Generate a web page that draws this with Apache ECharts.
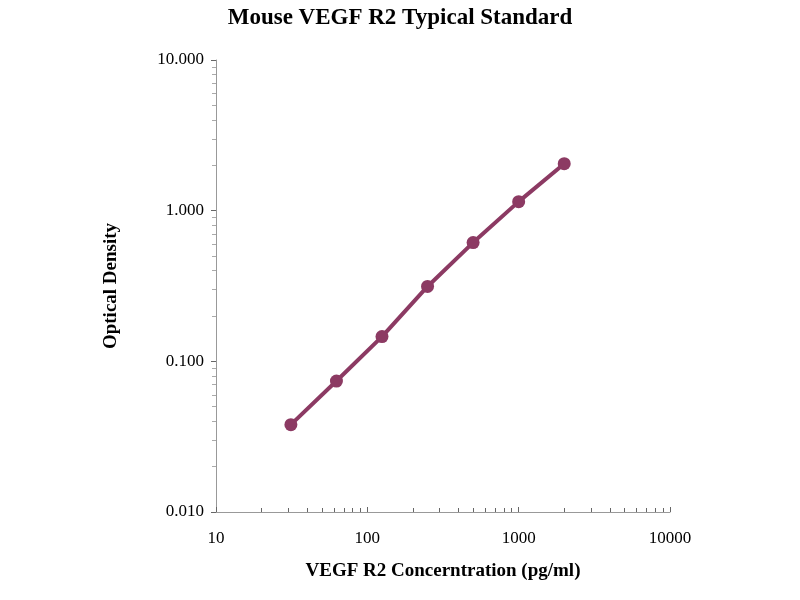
<!DOCTYPE html>
<html>
<head>
<meta charset="utf-8">
<script src="https://cdn.jsdelivr.net/npm/echarts@6/dist/echarts.min.js"></script>
<style>html,body{margin:0;padding:0;background:#fff}#chart{width:800px;height:600px}</style>
</head>
<body>
<div id="chart"></div>
<script>
// standard curve data
var concentration = [31.25, 62.5, 125, 250, 500, 1000, 2000];
var opticalDensity = [0.038, 0.074, 0.146, 0.314, 0.614, 1.148, 2.05];

var points = [];
for (var i = 0; i < concentration.length; i++) {
    points.push([concentration[i], opticalDensity[i]]);
}

var serif = '"Liberation Serif", "DejaVu Serif", serif';
var chart = echarts.init(document.getElementById('chart'));
chart.setOption({
    backgroundColor: '#fff',
    animation: false,
    title: {
        text: 'Mouse VEGF R2 Typical Standard',
        left: 'center', top: 2,
        textStyle: { fontFamily: serif, fontSize: 23, fontWeight: 'bold', color: '#000' }
    },
    grid: { left: 216, right: 130, top: 60, bottom: 88 },
    xAxis: {
        type: 'log', logBase: 10, min: 10, max: 10000,
        name: 'VEGF R2 Concerntration (pg/ml)', nameLocation: 'middle', nameGap: 50,
        nameTextStyle: { fontFamily: serif, fontSize: 19, fontWeight: 'bold', color: '#000' },
        axisLine: { lineStyle: { color: '#999' } },
        axisTick: { show: true, inside: true, length: 5, lineStyle: { color: '#666' } },
        minorTick: { show: true, splitNumber: 9, length: 4, lineStyle: { color: '#666' } },
        axisLabel: {
            fontFamily: serif, fontSize: 17, color: '#000', margin: 18,
            formatter: function (v) { return String(Math.round(v)); }
        },
        splitLine: { show: false }
    },
    yAxis: {
        type: 'log', logBase: 10, min: 0.01, max: 10,
        name: 'Optical Density', nameLocation: 'middle', nameGap: 95,
        nameTextStyle: { fontFamily: serif, fontSize: 19, fontWeight: 'bold', color: '#000' },
        axisLine: { show: true, lineStyle: { color: '#999' } },
        axisTick: { show: true, length: 5, lineStyle: { color: '#666' } },
        minorTick: { show: true, splitNumber: 9, length: 4, lineStyle: { color: '#aaa' } },
        axisLabel: {
            fontFamily: serif, fontSize: 17, color: '#000', margin: 12,
            formatter: function (v) { return v.toFixed(3); }
        },
        splitLine: { show: false }
    },
    series: [{
        type: 'line',
        data: points,
        symbol: 'circle', symbolSize: 13,
        lineStyle: { color: '#8c3a63', width: 4 },
        itemStyle: { color: '#8c3a63' }
    }]
});
</script>
</body>
</html>
